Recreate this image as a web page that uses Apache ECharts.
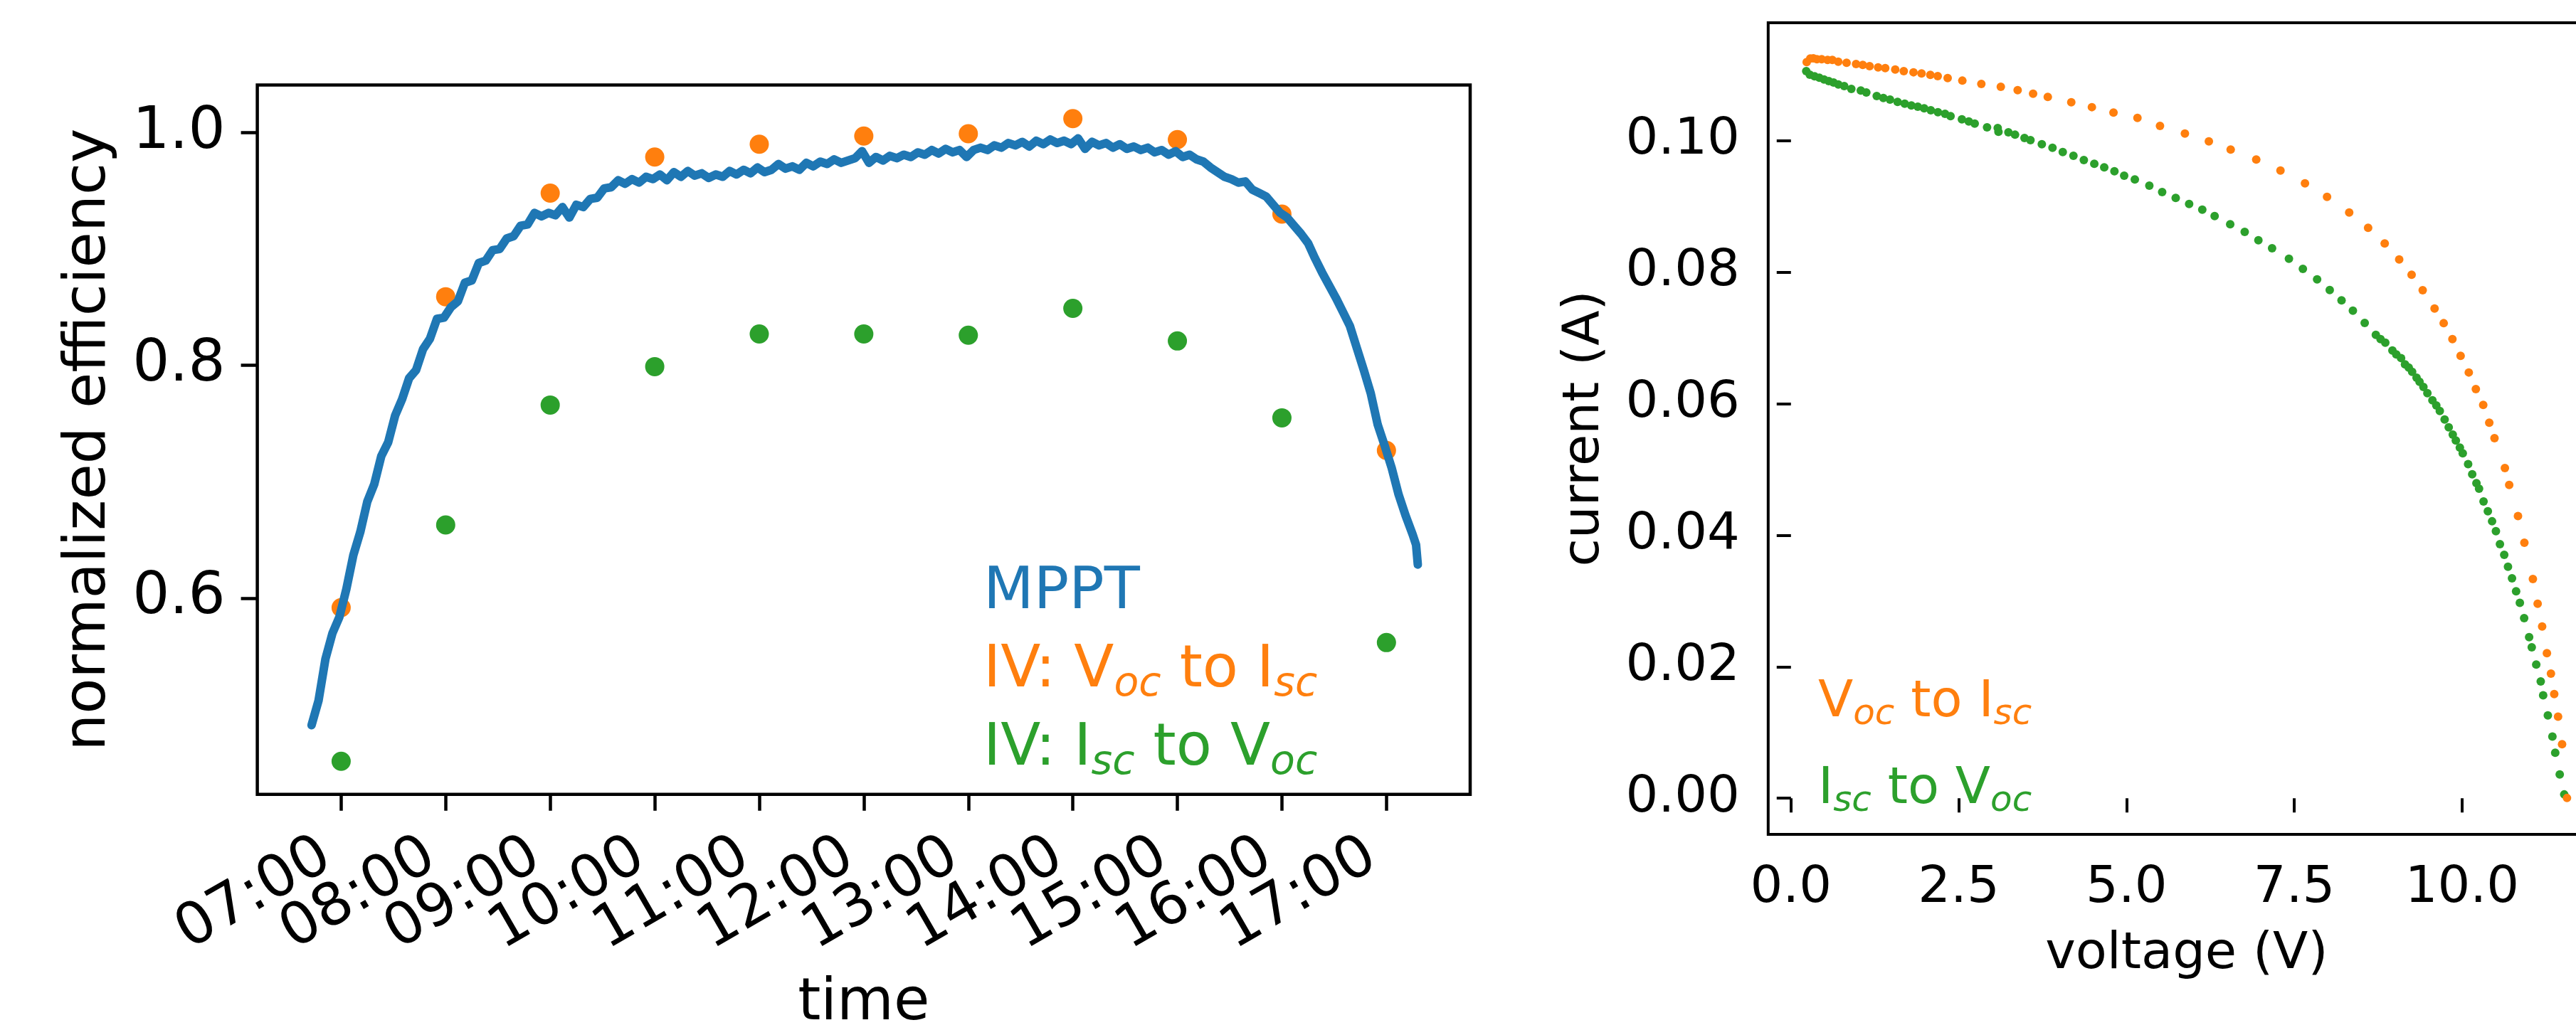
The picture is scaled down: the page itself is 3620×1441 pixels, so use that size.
<!DOCTYPE html>
<html>
<head>
<meta charset="utf-8">
<script src="https://cdn.jsdelivr.net/npm/echarts@6/dist/echarts.min.js"></script>
<style>
html,body{margin:0;padding:0;background:#fff;}
#chart{width:3620px;height:1441px;}
</style>
</head>
<body>
<div id="chart"></div>
<script>
// ---------------- data ----------------
const hourTicks = ['07:00','08:00','09:00','10:00','11:00','12:00','13:00','14:00','15:00','16:00','17:00'];
const ivVocToIscEff = [0.592,0.859,0.948,0.979,0.990,0.997,0.999,1.012,0.994,0.930,0.727];
const ivIscToVocEff = [0.460,0.663,0.766,0.799,0.827,0.827,0.826,0.849,0.821,0.755,0.562];

const mpptTimes = ['06:43','06:47','06:51','06:55','06:59','07:03','07:07','07:11','07:15','07:19','07:23','07:27','07:31','07:35','07:39','07:43','07:47','07:51','07:55','07:59',
'08:03','08:07','08:11','08:15','08:19','08:23','08:27','08:31','08:35','08:39','08:43','08:47','08:51','08:55','08:59',
'09:03','09:07','09:11','09:15','09:19','09:23','09:27','09:31','09:35','09:39','09:43','09:47','09:51','09:55','09:59',
'10:03','10:07','10:11','10:15','10:19','10:23','10:27','10:31','10:35','10:39','10:43','10:47','10:51','10:55','10:59',
'11:03','11:07','11:11','11:15','11:19','11:23','11:27','11:31','11:35','11:39','11:43','11:47','11:51','11:55','11:59',
'12:03','12:07','12:11','12:15','12:19','12:23','12:27','12:31','12:35','12:39','12:43','12:47','12:51','12:55','12:59',
'13:03','13:07','13:11','13:15','13:19','13:23','13:27','13:31','13:35','13:39','13:43','13:47','13:51','13:55','13:59',
'14:03','14:07','14:11','14:15','14:19','14:23','14:27','14:31','14:35','14:39','14:43','14:47','14:51','14:55','14:59',
'15:03','15:07','15:11','15:15','15:19','15:23','15:27','15:31','15:35','15:39','15:43','15:47','15:51','15:55','15:59',
'16:03','16:07','16:11','16:15','16:19','16:23','16:27','16:31','16:35','16:39','16:43','16:47','16:51','16:55','16:59',
'17:03','17:07','17:11','17:15','17:17','17:18'];
const mpptEff = [0.491,0.512,0.548,0.570,0.584,0.608,0.637,0.657,0.683,0.698,0.722,0.734,0.757,0.771,0.789,0.796,0.814,0.823,0.840,0.841,
0.850,0.855,0.871,0.873,0.888,0.890,0.899,0.900,0.909,0.911,0.920,0.921,0.931,0.928,0.931,
0.929,0.936,0.927,0.938,0.936,0.943,0.944,0.952,0.953,0.959,0.956,0.960,0.957,0.962,0.960,
0.964,0.959,0.966,0.962,0.967,0.963,0.965,0.961,0.964,0.962,0.967,0.964,0.968,0.965,0.970,
0.966,0.968,0.973,0.969,0.971,0.968,0.974,0.971,0.975,0.973,0.977,0.974,0.976,0.978,0.984,
0.974,0.979,0.976,0.980,0.978,0.981,0.979,0.983,0.981,0.985,0.982,0.986,0.983,0.985,0.979,
0.985,0.987,0.985,0.989,0.987,0.991,0.989,0.992,0.988,0.993,0.990,0.994,0.991,0.993,0.990,
0.995,0.986,0.992,0.989,0.991,0.987,0.990,0.986,0.988,0.985,0.987,0.983,0.985,0.981,0.984,
0.979,0.981,0.977,0.975,0.970,0.966,0.962,0.960,0.957,0.958,0.951,0.948,0.945,0.938,0.931,
0.927,0.920,0.913,0.905,0.892,0.880,0.869,0.858,0.846,0.834,0.815,0.796,0.776,0.749,0.731,
0.712,0.689,0.671,0.655,0.646,0.629];

const effTicks = [0.6, 0.8, 1.0];

const vocToIscVoltage = [0.235,0.288,0.334,0.387,0.458,0.546,0.617,0.705,0.829,0.970,1.070,1.172,1.299,1.405,1.554,1.681,1.826,1.946,2.077,2.187,2.335,2.554,2.837,3.127,3.378,3.608,3.827,4.177,4.484,4.806,5.163,5.499,5.870,6.227,6.552,6.933,7.294,7.659,7.988,8.318,8.600,8.847,9.063,9.248,9.413,9.590,9.726,9.856,9.978,10.100,10.205,10.315,10.405,10.483,10.638,10.702,10.833,10.928,11.055,11.126,11.193,11.264,11.324,11.373,11.430,11.490,11.563];
const vocToIscCurrent = [0.11193,0.11247,0.11250,0.11236,0.11236,0.11225,0.11225,0.11200,0.11182,0.11164,0.11149,0.11131,0.11113,0.11102,0.11081,0.11056,0.11038,0.11020,0.10998,0.10980,0.10951,0.10911,0.10861,0.10818,0.10767,0.10713,0.10663,0.10583,0.10508,0.10425,0.10345,0.10223,0.10107,0.09988,0.09862,0.09711,0.09545,0.09350,0.09145,0.08907,0.08673,0.08435,0.08193,0.07959,0.07724,0.07447,0.07223,0.06982,0.06726,0.06474,0.06221,0.05980,0.05710,0.05474,0.05022,0.04763,0.04292,0.03886,0.03334,0.02959,0.02612,0.02206,0.01894,0.01585,0.01240,0.00823,0.00004];

const iscToVocVoltage = [0.228,0.281,0.352,0.423,0.493,0.564,0.635,0.706,0.794,0.900,1.041,1.123,1.278,1.377,1.476,1.589,1.695,1.794,1.890,1.985,2.084,2.190,2.296,2.378,2.547,2.650,2.738,2.922,3.081,3.092,3.240,3.339,3.480,3.569,3.738,3.897,4.050,4.209,4.364,4.520,4.668,4.820,4.965,5.124,5.340,5.531,5.733,5.933,6.129,6.313,6.545,6.761,6.965,7.169,7.420,7.628,7.840,8.028,8.204,8.373,8.549,8.715,8.785,8.856,8.962,9.020,9.091,9.150,9.205,9.256,9.322,9.366,9.424,9.483,9.558,9.616,9.668,9.740,9.801,9.861,9.907,9.967,10.010,10.090,10.151,10.214,10.253,10.320,10.384,10.447,10.504,10.564,10.628,10.684,10.744,10.805,10.861,10.925,10.999,11.038,11.105,11.172,11.208,11.278,11.346,11.388,11.455,11.522];
const iscToVocCurrent = [0.11056,0.11002,0.10976,0.10955,0.10929,0.10904,0.10883,0.10854,0.10829,0.10785,0.10760,0.10731,0.10677,0.10648,0.10623,0.10587,0.10562,0.10533,0.10515,0.10490,0.10461,0.10432,0.10407,0.10371,0.10324,0.10291,0.10259,0.10201,0.10190,0.10133,0.10125,0.10089,0.10039,0.10007,0.09945,0.09891,0.09826,0.09768,0.09704,0.09646,0.09592,0.09534,0.09466,0.09408,0.09314,0.09217,0.09127,0.09037,0.08950,0.08853,0.08727,0.08611,0.08485,0.08363,0.08204,0.08049,0.07890,0.07728,0.07570,0.07414,0.07227,0.07047,0.06982,0.06928,0.06809,0.06748,0.06693,0.06596,0.06549,0.06484,0.06394,0.06333,0.06254,0.06160,0.06052,0.05972,0.05889,0.05760,0.05640,0.05528,0.05439,0.05331,0.05246,0.05080,0.04925,0.04790,0.04706,0.04512,0.04365,0.04211,0.04060,0.03863,0.03701,0.03519,0.03345,0.03148,0.02971,0.02739,0.02450,0.02295,0.02032,0.01777,0.01565,0.01260,0.00939,0.00692,0.00363,0.00058];

const voltageTicks = [0, 2.5, 5, 7.5, 10];
const currentTicks = [0, 0.02, 0.04, 0.06, 0.08, 0.10];

// ---------------- helpers ----------------
const FONT = 'DejaVu Sans';
const BLUE = '#1f77b4', ORANGE = '#ff7f0e', GREEN = '#2ca02c';
function toHours(s) { const p = s.split(':'); return Number(p[0]) + Number(p[1]) / 60; }
function pad2(n) { return (n < 10 ? '0' : '') + n; }
function zip(a, b) { return a.map((v, i) => [v, b[i]]); }

const hourValues = hourTicks.map(s => toHours(s));
// tick labels split over two stacked axes so the rotated, overlapping
// labels are all kept (ECharts hides overlapping first/last labels)
const hourValuesA = hourValues.filter((v, i) => i % 2 === 0);
const hourValuesB = hourValues.filter((v, i) => i % 2 === 1);
const mpptData = zip(mpptTimes.map(s => toHours(s)), mpptEff);

const NAME_MPPT = 'MPPT';
const NAME_L_VI = 'IV: Voc to Isc';
const NAME_L_IV = 'IV: Isc to Voc';
const NAME_R_VI = 'Voc to Isc';
const NAME_R_IV = 'Isc to Voc';
const legendRich = {};
legendRich[NAME_MPPT] = '{a|MPPT}';
legendRich[NAME_L_VI] = '{a|IV: V}{s|oc}{a| to I}{s|sc}';
legendRich[NAME_L_IV] = '{a|IV: I}{s|sc}{a| to V}{s|oc}';
legendRich[NAME_R_VI] = '{a|V}{s|oc}{a| to I}{s|sc}';
legendRich[NAME_R_IV] = '{a|I}{s|sc}{a| to V}{s|oc}';

function legendText(color, size) {
  const sub = Math.round(size * 0.7);
  const pb = Math.round(size * 0.15 - 0.061 * size);
  return {
    color: color, fontFamily: FONT, fontSize: size,
    rich: {
      a: { color: color, fontFamily: FONT, fontSize: size, lineHeight: size, verticalAlign: 'bottom', padding: [0, 0, pb, 0] },
      s: { color: color, fontFamily: FONT, fontSize: sub, fontStyle: 'italic', lineHeight: sub, verticalAlign: 'bottom' }
    }
  };
}

function valueAxis(o) {
  const ax = {
    type: 'value', gridIndex: o.grid, min: o.min, max: o.max,
    axisLine: { show: false },
    axisTick: { show: true, inside: false, length: o.tick, customValues: o.ticks, lineStyle: { color: '#000', width: o.lw } },
    axisLabel: Object.assign({ color: '#000', fontFamily: FONT, fontSize: o.fs, margin: o.margin, customValues: o.ticks, formatter: o.fmt }, o.label || {}),
    splitLine: { show: false },
    nameTextStyle: { color: '#000', fontFamily: FONT, fontSize: o.fs }
  };
  if (o.name) { ax.name = o.name; ax.nameLocation = 'middle'; ax.nameGap = o.nameGap; }
  if (o.position) ax.position = o.position;
  return ax;
}

const timeAxisCommon = { grid: 0, min: 6.198, max: 17.801, tick: 23, lw: 4.5, fs: 82, margin: 70,
  fmt: v => pad2(Math.round(v)) + ':00', position: 'bottom',
  label: { rotate: 30, padding: [0, 23, 0, 0], showMinLabel: true, showMaxLabel: true } };

const option = {
  animation: false,
  backgroundColor: '#ffffff',
  grid: [
    { left: 361.6, top: 119.4, width: 1704.4, height: 997.4, show: true, borderColor: '#000', borderWidth: 4.5, backgroundColor: 'transparent', containLabel: false, outerBoundsMode: 'none' },
    { left: 2484.8, top: 32, width: 1176, height: 1141, show: true, borderColor: '#000', borderWidth: 4, backgroundColor: 'transparent', containLabel: false, outerBoundsMode: 'none' }
  ],
  xAxis: [
    valueAxis(Object.assign({}, timeAxisCommon, { ticks: hourValuesA, name: 'time', nameGap: 254 })),
    valueAxis({ grid: 1, min: -0.339, max: 12.13, tick: 20, lw: 4, fs: 72, margin: 40, ticks: voltageTicks,
      fmt: v => v.toFixed(1), name: 'voltage (V)', nameGap: 133 }),
    valueAxis(Object.assign({}, timeAxisCommon, { ticks: hourValuesB }))
  ],
  yAxis: [
    valueAxis({ grid: 0, min: 0.4316, max: 1.0409, tick: 23, lw: 4.5, fs: 82, margin: 45, ticks: effTicks,
      fmt: v => v.toFixed(1), name: 'normalized efficiency', nameGap: 195 }),
    valueAxis({ grid: 1, min: -0.00549, max: 0.11791, tick: 20, lw: 4, fs: 72, margin: 40, ticks: currentTicks,
      fmt: v => v.toFixed(2), name: 'current (A)', nameGap: 222 })
  ],
  legend: [
    { left: 1377, top: 793, orient: 'vertical', padding: 0, itemGap: 21, icon: 'none', itemWidth: 0, itemHeight: 0, selectedMode: false,
      formatter: n => legendRich[n],
      data: [
        { name: NAME_MPPT, textStyle: legendText(BLUE, 82) },
        { name: NAME_L_VI, textStyle: legendText(ORANGE, 82) },
        { name: NAME_L_IV, textStyle: legendText(GREEN, 82) }
      ] },
    { left: 2550, top: 952, orient: 'vertical', padding: 0, itemGap: 44, icon: 'none', itemWidth: 0, itemHeight: 0, selectedMode: false,
      formatter: n => legendRich[n],
      data: [
        { name: NAME_R_VI, textStyle: legendText(ORANGE, 72) },
        { name: NAME_R_IV, textStyle: legendText(GREEN, 72) }
      ] }
  ],
  series: [
    { name: NAME_MPPT, type: 'line', xAxisIndex: 0, yAxisIndex: 0, data: mpptData, showSymbol: false, symbol: 'none',
      lineStyle: { color: BLUE, width: 12, cap: 'round', join: 'round' }, itemStyle: { color: BLUE } },
    { name: NAME_L_VI, type: 'scatter', xAxisIndex: 0, yAxisIndex: 0, data: zip(hourValues, ivVocToIscEff), symbolSize: 27,
      itemStyle: { color: ORANGE, opacity: 1 } },
    { name: NAME_L_IV, type: 'scatter', xAxisIndex: 0, yAxisIndex: 0, data: zip(hourValues, ivIscToVocEff), symbolSize: 27,
      itemStyle: { color: GREEN, opacity: 1 } },
    { name: NAME_R_IV, type: 'scatter', xAxisIndex: 1, yAxisIndex: 1, data: zip(iscToVocVoltage, iscToVocCurrent), symbolSize: 12,
      itemStyle: { color: GREEN, opacity: 1 } },
    { name: NAME_R_VI, type: 'scatter', xAxisIndex: 1, yAxisIndex: 1, data: zip(vocToIscVoltage, vocToIscCurrent), symbolSize: 12,
      itemStyle: { color: ORANGE, opacity: 1 } }
  ]
};

const chart = echarts.init(document.getElementById('chart'), null, { renderer: 'canvas' });
chart.setOption(option);
</script>
</body>
</html>
